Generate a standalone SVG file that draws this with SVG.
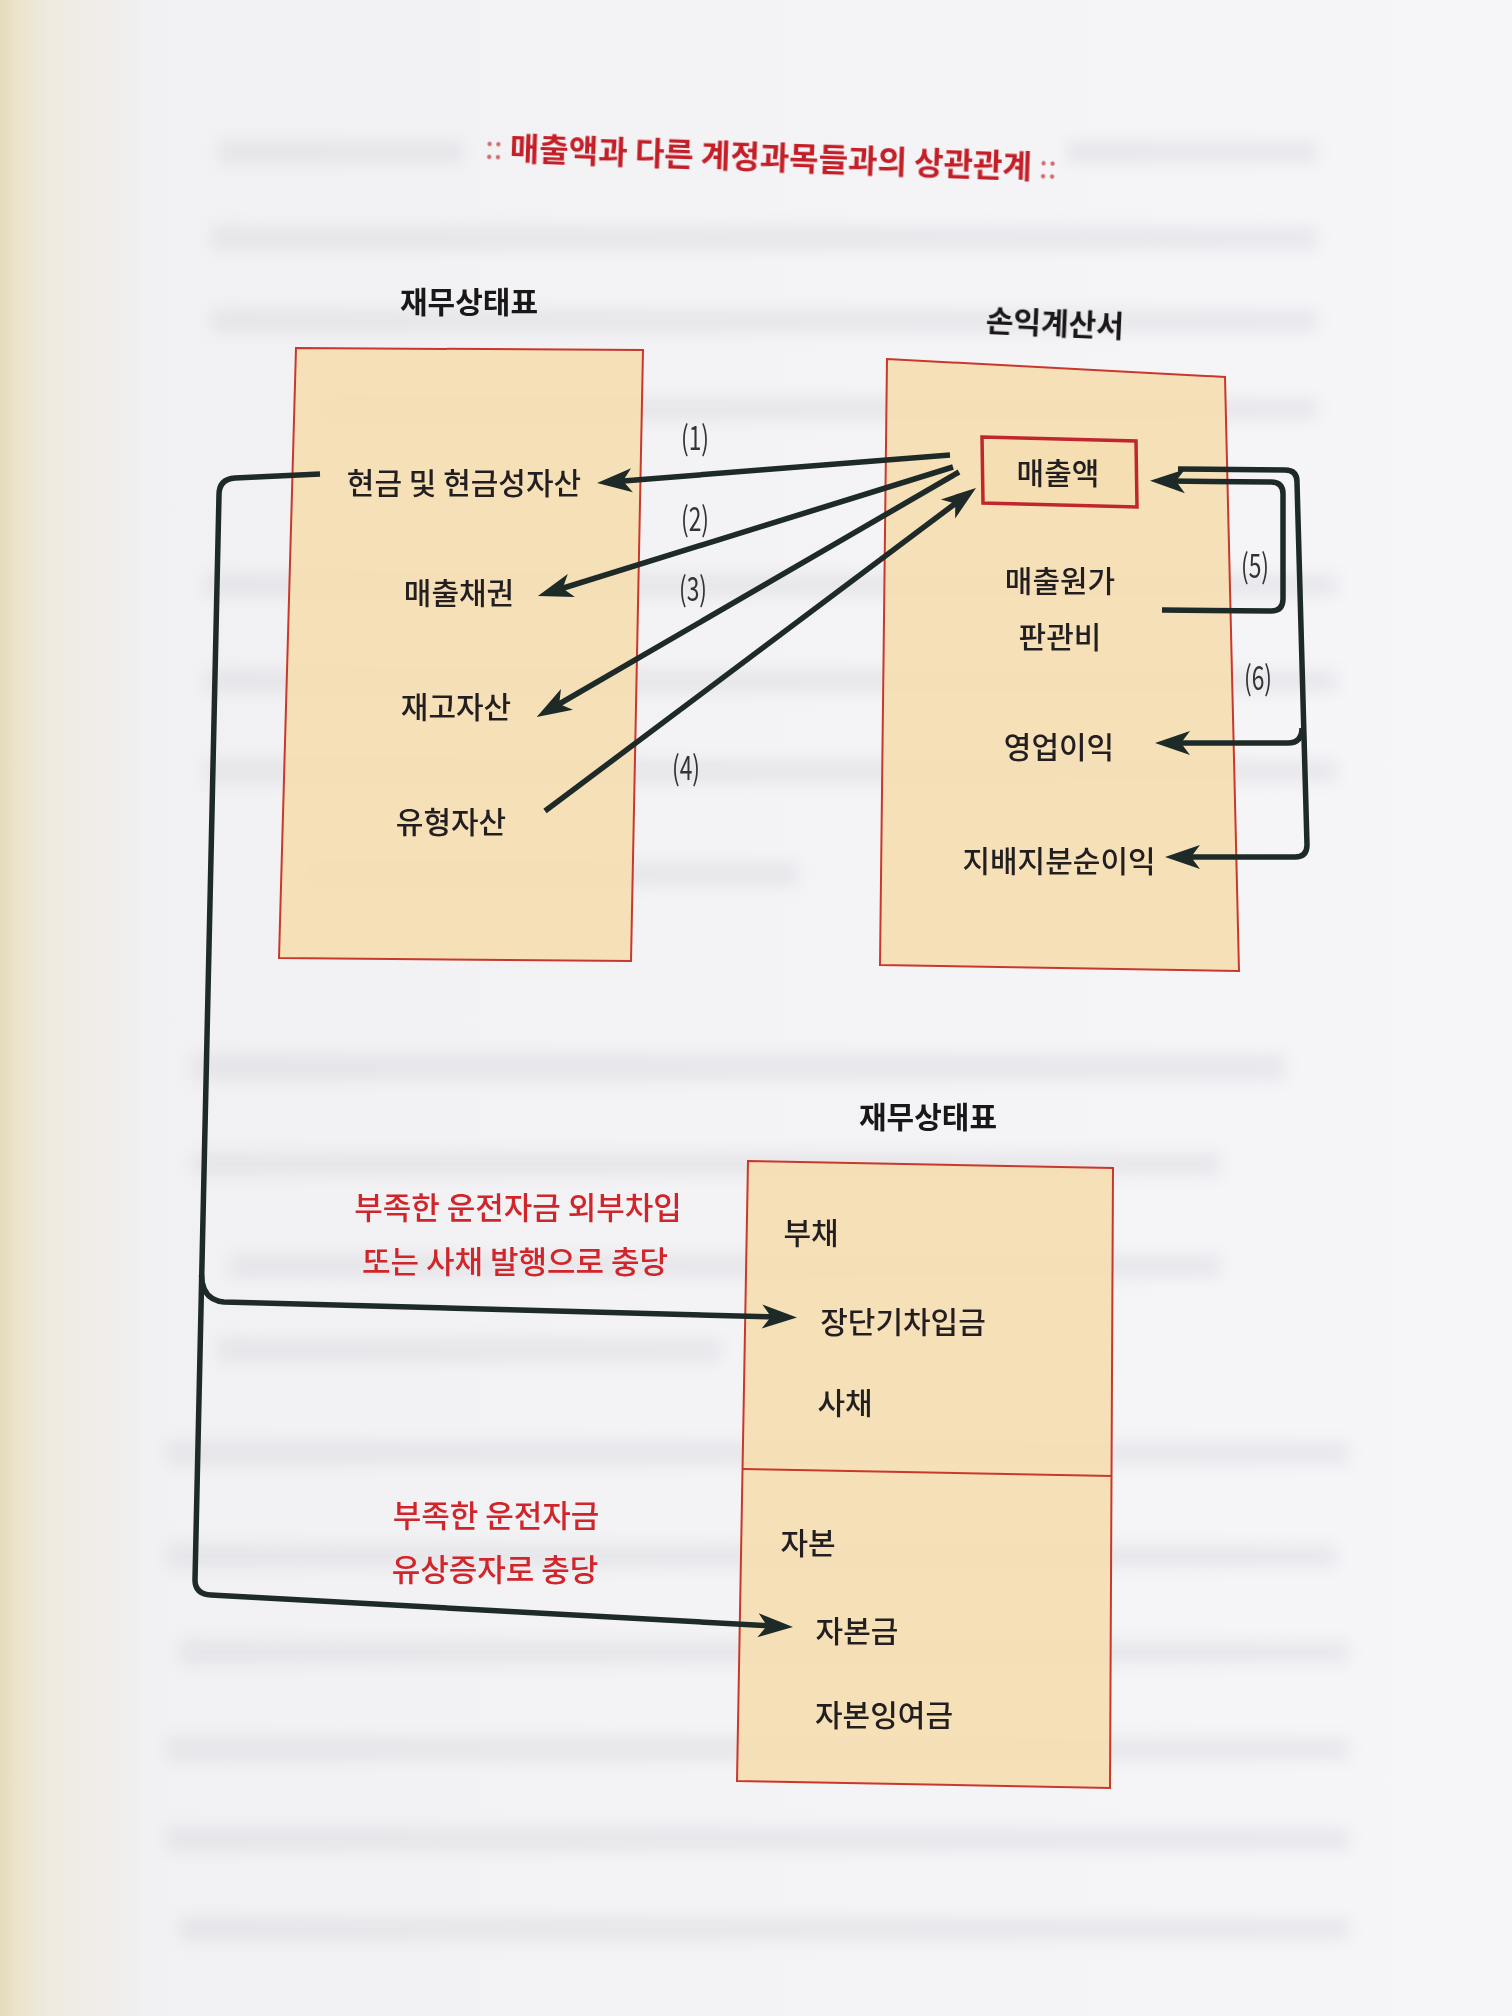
<svg xmlns="http://www.w3.org/2000/svg" width="1512" height="2016" viewBox="0 0 1512 2016">
  <defs>
    <linearGradient id="page" x1="0" y1="0" x2="1" y2="0">
      <stop offset="0" stop-color="#e6dcbc"/>
      <stop offset="0.012" stop-color="#ebe4cc"/>
      <stop offset="0.035" stop-color="#efebe2"/>
      <stop offset="0.1" stop-color="#f1f0f3"/>
      <stop offset="1" stop-color="#f6f5f8"/>
    </linearGradient>
    <filter id="blur" x="-5%" y="-200%" width="110%" height="500%">
      <feGaussianBlur stdDeviation="8"/>
    </filter>
    <marker id="ah" viewBox="-20 -13 42 26" refX="0" refY="0" markerWidth="42" markerHeight="26" markerUnits="userSpaceOnUse" orient="auto">
      <path d="M20,0 L-15,-12 L-6,0 L-15,12 Z" fill="#1d2a27"/>
    </marker>
    <style>
      .box { fill: #f5deb1; fill-opacity: 0.9; stroke: #c9382c; stroke-width: 2; }
      .hl { fill: #f5deb1; stroke: #c0262e; stroke-width: 3.5; }
      .t { font-family: "Noto Sans CJK KR", "Noto Sans", sans-serif; font-size: 30px; font-weight: 500; fill: #231f20; text-anchor: middle; dominant-baseline: central; }
      .h { font-family: "Noto Sans CJK KR", "Noto Sans", sans-serif; font-size: 30px; font-weight: 700; fill: #1a1718; text-anchor: middle; dominant-baseline: central; }
      .r { font-family: "Noto Sans CJK KR", "Noto Sans", sans-serif; font-size: 31px; font-weight: 500; fill: #d0262b; text-anchor: middle; dominant-baseline: central; }
      .n { font-family: "Noto Sans CJK KR", "Noto Sans", sans-serif; font-size: 33px; fill: #333; text-anchor: middle; dominant-baseline: central; }
      .title { font-family: "Noto Sans CJK KR", "Noto Sans", sans-serif; font-size: 32px; font-weight: 700; fill: #c41f27; text-anchor: middle; dominant-baseline: central; }
      .colon { font-weight: 400; fill: #d46a6a; }
      .ln { fill: none; stroke: #1d2a27; stroke-width: 5.5; stroke-linecap: butt; stroke-linejoin: round; }
      .arr { marker-end: url(#ah); }
      .st { fill: #7d7d8e; filter: url(#blur); }
    </style>
  </defs>

  <rect x="0" y="0" width="1512" height="2016" fill="url(#page)"/>

  <g id="show-through" opacity="0.1">
    <rect class="st" x="219" y="141" width="244" height="22"/>
    <rect class="st" x="1067" y="141" width="251" height="22"/>
    <rect class="st" x="212" y="227" width="1106" height="22"/>
    <rect class="st" x="212" y="310" width="1106" height="22"/>
    <rect class="st" x="321" y="398" width="997" height="22"/>
    <rect class="st" x="206" y="574" width="1131" height="22"/>
    <rect class="st" x="206" y="670" width="1131" height="22"/>
    <rect class="st" x="206" y="760" width="1131" height="22"/>
    <rect class="st" x="309" y="863" width="488" height="22"/>
    <rect class="st" x="193" y="1054" width="1093" height="26"/>
    <rect class="st" x="193" y="1153" width="1028" height="22"/>
    <rect class="st" x="231" y="1255" width="990" height="22"/>
    <rect class="st" x="219" y="1339" width="501" height="22"/>
    <rect class="st" x="167" y="1442" width="1183" height="22"/>
    <rect class="st" x="167" y="1545" width="1170" height="22"/>
    <rect class="st" x="180" y="1641" width="1170" height="22"/>
    <rect class="st" x="167" y="1738" width="1183" height="22"/>
    <rect class="st" x="167" y="1828" width="1183" height="22"/>
    <rect class="st" x="180" y="1918" width="1170" height="22"/>
  </g>

  <g id="title">
    <text class="title" x="771" y="155" transform="rotate(2 771 155)"><tspan class="colon">:: </tspan>매출액과 다른 계정과목들과의 상관관계<tspan class="colon"> ::</tspan></text>
  </g>

  <g id="bs-top">
    <text class="h" x="469" y="300">재무상태표</text>
    <polygon class="box" points="296,348 643,350 631,961 279,958"/>
    <text class="t" x="464" y="481">현금 및 현금성자산</text>
    <text class="t" x="459" y="591">매출채권</text>
    <text class="t" x="456" y="705">재고자산</text>
    <text class="t" x="451" y="820">유형자산</text>
  </g>

  <g id="is">
    <text class="h" x="1055" y="321" transform="rotate(2.5 1055 321)">손익계산서</text>
    <polygon class="box" points="887,359 1225,377 1239,971 880,965"/>
    <g id="sales">
      <polygon class="hl" points="982,437 1136,441 1137,507 983,503"/>
      <text class="t" x="1058" y="471">매출액</text>
    </g>
    <text class="t" x="1060" y="579">매출원가</text>
    <text class="t" x="1060" y="635">판관비</text>
    <text class="t" x="1059" y="745">영업이익</text>
    <text class="t" x="1059" y="859">지배지분순이익</text>
  </g>

  <g id="bs-bottom">
    <text class="h" x="928" y="1115">재무상태표</text>
    <polygon class="box" points="748,1161 1113,1168 1110,1788 737,1781"/>
    <line x1="743" y1="1469" x2="1112" y2="1476" stroke="#c9382c" stroke-width="2"/>
    <text class="t" x="811" y="1231">부채</text>
    <text class="t" x="903" y="1320">장단기차입금</text>
    <text class="t" x="845" y="1401">사채</text>
    <text class="t" x="808" y="1541">자본</text>
    <text class="t" x="857" y="1629">자본금</text>
    <text class="t" x="884" y="1713">자본잉여금</text>
  </g>

  <g id="connectors">
    <line class="ln arr" x1="950" y1="455" x2="617" y2="481.4"/>
    <line class="ln arr" x1="953" y1="467" x2="557" y2="590"/>
    <line class="ln arr" x1="959" y1="472" x2="554" y2="707"/>
    <line class="ln arr" x1="545" y1="811" x2="960" y2="500"/>
    <path class="ln arr" d="M1162,610 L1271,611 Q1283,611 1283,599 L1283,494 Q1283,482 1271,482 L1170,481"/>
    <path class="ln arr" d="M1178,469 L1285,470 Q1297,470 1297,482 L1307,845 Q1307,857 1295,857 L1185,857"/>
    <path class="ln arr" d="M1302,728 Q1302,743 1288,743 L1175,743"/>
    <path class="ln arr" d="M320,474 L235,478 Q219,479 219,495 L195,1580 Q195,1594 211,1595 L773,1626"/>
    <path class="ln arr" d="M201.5,1275 Q202,1300 224,1302 L777,1317"/>
  </g>

  <g id="labels">
    <text class="n" x="695" y="436" textLength="28" lengthAdjust="spacingAndGlyphs">(1)</text>
    <text class="n" x="695" y="517" textLength="28" lengthAdjust="spacingAndGlyphs">(2)</text>
    <text class="n" x="693" y="587" textLength="28" lengthAdjust="spacingAndGlyphs">(3)</text>
    <text class="n" x="686" y="766" textLength="28" lengthAdjust="spacingAndGlyphs">(4)</text>
    <text class="n" x="1255" y="564" textLength="28" lengthAdjust="spacingAndGlyphs">(5)</text>
    <text class="n" x="1258" y="676" textLength="28" lengthAdjust="spacingAndGlyphs">(6)</text>
    <text class="r" x="518" y="1205">부족한 운전자금 외부차입</text>
    <text class="r" x="515" y="1259">또는 사채 발행으로 충당</text>
    <text class="r" x="496" y="1513">부족한 운전자금</text>
    <text class="r" x="495" y="1567">유상증자로 충당</text>
  </g>
</svg>
